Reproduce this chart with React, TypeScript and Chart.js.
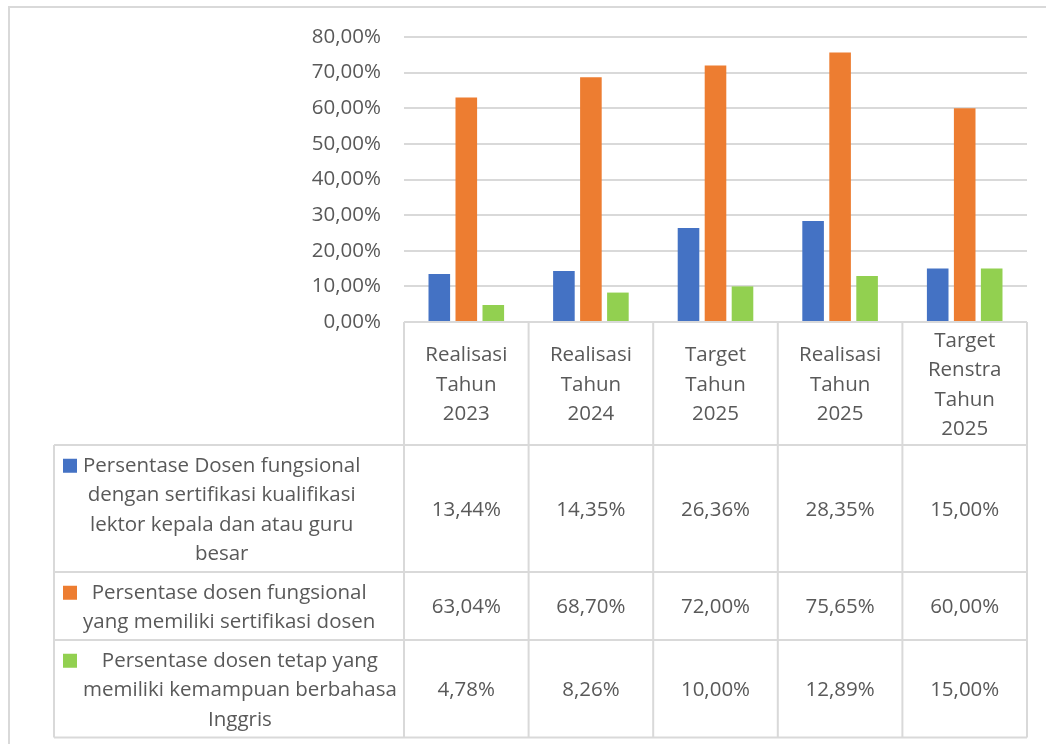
import React, { useEffect, useRef } from "react";
import { Chart, registerables } from "chart.js";

Chart.register(...registerables);

// ---- data ----
const categories: string[][] = [
  ["Realisasi", "Tahun", "2023"],
  ["Realisasi", "Tahun", "2024"],
  ["Target", "Tahun", "2025"],
  ["Realisasi", "Tahun", "2025"],
  ["Target", "Renstra", "Tahun", "2025"],
];

const seriesLabelLines: string[][] = [
  ["Persentase Dosen fungsional", "dengan sertifikasi kualifikasi", "lektor kepala dan atau guru", "besar"],
  ["Persentase dosen fungsional", "yang memiliki sertifikasi dosen"],
  ["Persentase dosen tetap yang", "memiliki kemampuan berbahasa", "Inggris"],
];

const dosenLektorKepalaGuruBesar = [13.44, 14.35, 26.36, 28.35, 15.0];
const dosenSertifikasi = [63.04, 68.7, 72.0, 75.65, 60.0];
const dosenBahasaInggris = [4.78, 8.26, 10.0, 12.89, 15.0];

const seriesValues = [dosenLektorKepalaGuruBesar, dosenSertifikasi, dosenBahasaInggris];
const seriesColors = ["#4472C4", "#ED7D31", "#92D050"];

const yMin = 0;
const yMax = 80;
const yStep = 10;

// ---- style ----
const FONT_FAMILY = '"Open Sans", "Noto Sans", sans-serif';
const FONT_SIZE = 20.5;
const TEXT_COLOR = "#595959";
const LINE_COLOR = "#D9D9D9";
const LINE_H = 29.5;
const TEXT_DY = 1.5;

const fmt = (v: number) => v.toFixed(2).replace(".", ",") + "%";

const tablePlugin = {
  id: "dataTable",
  afterDraw(chart: any) {
    const ctx: CanvasRenderingContext2D = chart.ctx;
    const xs = chart.scales.x;
    const area = chart.chartArea;
    const n = categories.length;
    const step = xs.getPixelForValue(1) - xs.getPixelForValue(0);
    const bounds: number[] = [];
    for (let i = 0; i < n; i++) bounds.push(xs.getPixelForValue(i) - step / 2);
    bounds.push(xs.getPixelForValue(n - 1) + step / 2);

    const tableLeft = 54;
    const headerTop = area.bottom;
    const maxHeaderLines = Math.max(...categories.map((c) => c.length));
    const headerBottom = headerTop + maxHeaderLines * LINE_H + 5;
    const rowTops: number[] = [headerBottom];
    seriesLabelLines.forEach((lines) => {
      rowTops.push(rowTops[rowTops.length - 1] + lines.length * LINE_H + 9);
    });

    ctx.save();
    // outer chart border
    ctx.strokeStyle = LINE_COLOR;
    ctx.lineWidth = 2;
    ctx.strokeRect(9, 7, chart.width + 20, chart.height + 20);

    // table lines
    ctx.beginPath();
    bounds.forEach((bx) => {
      ctx.moveTo(bx, headerTop);
      ctx.lineTo(bx, rowTops[rowTops.length - 1]);
    });
    ctx.moveTo(tableLeft, rowTops[0]);
    ctx.lineTo(tableLeft, rowTops[rowTops.length - 1]);
    rowTops.forEach((ry) => {
      ctx.moveTo(tableLeft, ry);
      ctx.lineTo(bounds[n], ry);
    });
    ctx.stroke();

    ctx.font = `${FONT_SIZE}px ${FONT_FAMILY}`;
    ctx.fillStyle = TEXT_COLOR;
    ctx.textAlign = "center";
    ctx.textBaseline = "middle";

    // header
    const headerMid = (headerTop + headerBottom) / 2 + TEXT_DY;
    categories.forEach((lines, i) => {
      const cx = (bounds[i] + bounds[i + 1]) / 2;
      lines.forEach((ln, k) => {
        const y = headerMid + (k - (lines.length - 1) / 2) * LINE_H;
        ctx.fillText(ln, cx, y);
      });
    });

    // rows
    seriesLabelLines.forEach((lines, r) => {
      const top = rowTops[r];
      const bottom = rowTops[r + 1];
      const mid = (top + bottom) / 2 + TEXT_DY;
      // legend key + label
      const blockLeft = 83;
      const maxW = Math.max(...lines.map((l) => ctx.measureText(l).width));
      const lcx = blockLeft + maxW / 2;
      lines.forEach((ln, k) => {
        const y = mid + (k - (lines.length - 1) / 2) * LINE_H;
        ctx.fillStyle = TEXT_COLOR;
        ctx.fillText(ln, lcx, y);
        if (k === 0) {
          ctx.fillStyle = seriesColors[r];
          ctx.fillRect(63, y - 7, 14, 14);
        }
      });
      ctx.fillStyle = TEXT_COLOR;
      seriesValues[r].forEach((v, i) => {
        const cx = (bounds[i] + bounds[i + 1]) / 2;
        ctx.fillText(fmt(v), cx, mid);
      });
    });
    ctx.restore();
  },
};

export default function App() {
  const ref = useRef<HTMLCanvasElement | null>(null);
  useEffect(() => {
    if (!ref.current) return;
    const chart = new Chart(ref.current, {
      type: "bar",
      data: {
        labels: categories.map((c) => c.join(" ")),
        datasets: seriesValues.map((vals, i) => ({
          label: seriesLabelLines[i].join(" "),
          data: vals,
          backgroundColor: seriesColors[i],
          borderWidth: 0,
          categoryPercentage: 0.65,
          barPercentage: 0.8,
        })),
      },
      options: {
        responsive: false,
        animation: false,
        devicePixelRatio: 1,
        layout: { padding: { top: 37, right: 19, bottom: 422, left: 0 } },
        plugins: {
          legend: { display: false },
          tooltip: { enabled: false },
        },
        scales: {
          x: { display: false, offset: true },
          y: {
            min: yMin,
            max: yMax,
            ticks: {
              stepSize: yStep,
              padding: 23,
              color: TEXT_COLOR,
              font: { family: FONT_FAMILY, size: FONT_SIZE },
              callback: (v: any) => fmt(Number(v)),
            },
            grid: { color: LINE_COLOR, lineWidth: 2, drawTicks: false },
            border: { display: false },
            afterFit: (s: any) => {
              s.width = 404;
            },
          },
        },
      },
      plugins: [tablePlugin],
    });
    return () => chart.destroy();
  }, []);

  return (
    <div style={{ position: "fixed", left: 0, top: 0, width: 1046, height: 744, background: "#fff" }}>
      <canvas ref={ref} width={1046} height={744} style={{ width: 1046, height: 744, display: "block" }} />
    </div>
  );
}
